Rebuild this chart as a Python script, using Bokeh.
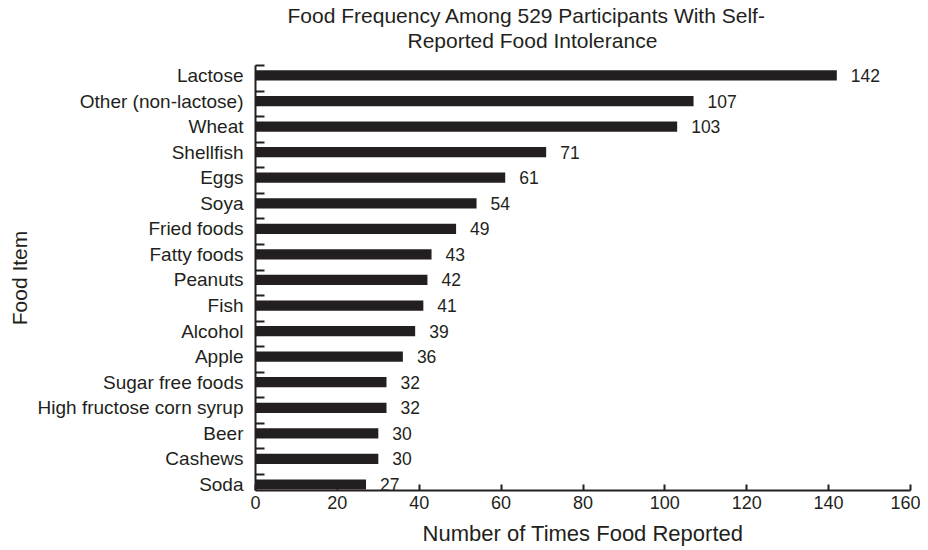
from bokeh.plotting import figure
from bokeh.models import FixedTicker, Range1d, ColumnDataSource, Title
from bokeh.core.properties import value
from bokeh.embed import file_html
from bokeh.resources import INLINE

foods = ["Lactose", "Other (non-lactose)", "Wheat", "Shellfish", "Eggs", "Soya",
         "Fried foods", "Fatty foods", "Peanuts", "Fish", "Alcohol", "Apple",
         "Sugar free foods", "High fructose corn syrup", "Beer", "Cashews", "Soda"]
counts = [142, 107, 103, 71, 61, 54, 49, 43, 42, 41, 39, 36, 32, 32, 30, 30, 27]
x_ticks = [0, 20, 40, 60, 80, 100, 120, 140, 160]
title_lines = ["Food Frequency Among 529 Participants With Self-", "Reported Food Intolerance"]

n = len(foods)
ypos = [n - 1 - i for i in range(n)]
src = ColumnDataSource(dict(y=ypos, v=counts, lab=[str(c) for c in counts]))

FONT = "Liberation Sans"
INK = "#231f20"

p = figure(width=920, height=550, output_backend="svg", toolbar_location=None,
           x_range=Range1d(0, 160), y_range=Range1d(-0.235, n - 1 + 0.39),
           min_border_left=255, min_border_right=10, min_border_top=65, min_border_bottom=60)
p.outline_line_color = None
p.xgrid.grid_line_color = None
p.ygrid.grid_line_color = None
p.background_fill_color = "white"

p.hbar(y="y", right="v", left=0, height=0.4, source=src, fill_color=INK, line_color=None)
p.text(x="v", y="y", text="lab", source=src, x_offset=14, text_align="left",
       text_baseline="middle", text_font=value(FONT), text_font_size="17.5px", text_color=INK)

# x axis
xa = p.xaxis[0]
xa.ticker = FixedTicker(ticks=x_ticks)
xa.major_tick_in = 6
xa.major_tick_out = 0
xa.minor_tick_line_color = None
xa.axis_line_width = 2
xa.major_tick_line_width = 2
xa.axis_line_color = INK
xa.major_tick_line_color = INK
xa.major_label_text_font = FONT
xa.major_label_text_font_size = "18px"
xa.major_label_text_color = INK
xa.major_label_standoff = 5
xa.axis_label = "Number of Times Food Reported"
xa.axis_label_text_font = FONT
xa.axis_label_text_font_size = "22px"
xa.axis_label_text_font_style = "normal"
xa.axis_label_text_color = INK
xa.axis_label_standoff = 9

# y axis
ya = p.yaxis[0]
ya.ticker = FixedTicker(ticks=ypos, minor_ticks=[k + 0.39 for k in range(n)])
ya.major_label_overrides = {y: f for y, f in zip(ypos, foods)}
ya.major_tick_in = 0
ya.major_tick_out = 0
ya.minor_tick_in = 9
ya.minor_tick_out = 0
ya.minor_tick_line_width = 2
ya.minor_tick_line_color = INK
ya.axis_line_width = 2
ya.axis_line_color = INK
ya.major_label_text_font = FONT
ya.major_label_text_font_size = "19px"
ya.major_label_text_color = INK
ya.major_label_standoff = 12
ya.axis_label = "Food Item"
ya.axis_label_text_font = FONT
ya.axis_label_text_font_size = "21px"
ya.axis_label_text_font_style = "normal"
ya.axis_label_text_color = INK
ya.axis_label_standoff = 4

# title: blank spacer nearest the frame, then the two lines
p.add_layout(Title(text=" ", text_font_size="8px", standoff=3), "above")
p.add_layout(Title(text=title_lines[1], align="left", offset=152, text_font=FONT,
                   text_font_size="21px", text_font_style="normal", text_color=INK,
                   standoff=0), "above")
p.add_layout(Title(text=title_lines[0], align="left", offset=32, text_font=FONT,
                   text_font_size="21px", text_font_style="normal", text_color=INK,
                   standoff=0), "above")

open("out.html", "w").write(file_html(p, INLINE))
